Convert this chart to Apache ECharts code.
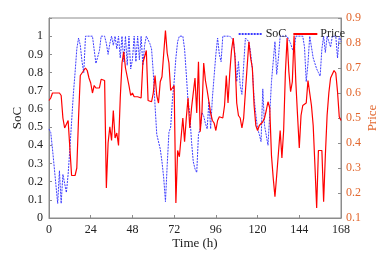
<!DOCTYPE html>
<html><head><meta charset="utf-8">
<script src="https://cdn.jsdelivr.net/npm/echarts@6/dist/echarts.min.js"></script>
<style>html,body{margin:0;padding:0;background:#fff}#c{width:382px;height:255px}</style>
</head><body><div id="c"></div>
<script>
const soc = [
0.49,0.47,0.38,0.28,0.18,0.08,0.26,0.08,0.24,0.19,0.14,0.24,
0.38,0.53,0.68,0.80,0.93,0.99,0.95,0.86,0.80,1.0,1.0,1.0,
1.0,1.0,1.0,0.85,0.84,0.92,1.0,1.0,1.0,0.96,0.90,0.96,
1.0,0.95,1.0,0.93,1.0,0.88,1.0,0.86,1.0,0.84,1.0,0.82,
0.87,1.0,0.86,1.0,0.87,1.0,0.84,0.95,1.0,1.0,0.96,0.93,
0.80,0.62,0.46,0.45,0.38,0.31,0.22,0.09,0.29,0.47,0.50,0.65,
0.75,0.88,0.97,1.0,1.0,1.0,0.93,0.79,0.64,0.57,0.42,0.31,
0.27,0.25,0.46,0.49,0.58,0.56,0.52,0.49,0.64,0.49,0.66,0.78,
0.90,0.99,0.90,0.86,1.0,1.0,1.0,1.0,1.0,1.0,0.98,0.90,
0.75,0.86,0.73,0.68,0.84,0.99,1.0,0.97,0.91,0.82,0.66,0.57,
0.49,0.46,0.42,0.71,0.51,0.50,0.40,0.57,0.75,0.76,0.97,0.79,
0.88,1.0,1.0,1.0,1.0,1.0,0.98,0.96,0.93,0.91,1.0,1.0,
1.0,1.0,1.0,0.94,0.75,0.85,1.0,1.0,0.88,0.85,0.82,0.80,
0.78,0.93,1.0,0.91,1.0,0.97,0.94,1.0,1.0,1.0,0.88,1.0,
0.97
];
const price = [
0.57,0.58,0.60,0.60,0.60,0.60,0.60,0.59,0.50,0.46,0.46,0.49,
0.38,0.27,0.265,0.27,0.30,0.50,0.67,0.67,0.69,0.70,0.69,0.66,
0.64,0.60,0.63,0.62,0.62,0.62,0.655,0.655,0.65,0.22,0.40,0.465,
0.41,0.53,0.42,0.44,0.39,0.58,0.72,0.765,0.70,0.70,0.63,0.59,
0.60,0.585,0.58,0.585,0.58,0.58,0.72,0.72,0.77,0.57,0.57,0.565,
0.60,0.67,0.59,0.56,0.645,0.665,0.66,0.85,0.76,0.72,0.61,0.605,
0.63,0.16,0.37,0.345,0.34,0.50,0.405,0.50,0.58,0.46,0.54,0.54,
0.66,0.52,0.725,0.445,0.525,0.72,0.65,0.61,0.61,0.52,0.49,0.48,
0.45,0.49,0.505,0.50,0.50,0.55,0.67,0.56,0.68,0.77,0.82,0.74,
0.56,0.51,0.50,0.46,0.50,0.605,0.61,0.805,0.74,0.70,0.55,0.47,
0.45,0.47,0.47,0.485,0.50,0.53,0.565,0.54,0.35,0.26,0.185,0.27,
0.36,0.45,0.34,0.45,0.68,0.82,0.685,0.605,0.645,0.83,0.645,0.51,
0.38,0.51,0.55,0.545,0.56,0.65,0.65,0.55,0.47,0.31,0.14,0.37,
0.365,0.37,0.165,0.35,0.51,0.60,0.66,0.665,0.69,0.68,0.605,0.505,
0.49
];
const hours = soc.map((_, i) => i);
const seriesNames = ['SoC', 'Price'];

const FONT = 'Liberation Serif';
const AX = '#8c8c8c';
const ORANGE = '#e2672e';

const chart = echarts.init(document.getElementById('c'), null, {renderer: 'canvas'});
chart.setOption({
  animation: false,
  backgroundColor: '#fff',
  textStyle: {fontFamily: FONT},
  grid: {left: 49, right: 41, top: 18, bottom: 37, show: true, borderColor: AX, borderWidth: 1,
         containLabel: false, outerBoundsMode: 'none'},
  legend: {
    right: 32, top: 23, itemWidth: 24, itemHeight: 8, itemGap: 6,
    itemStyle: {opacity: 0},
    textStyle: {fontFamily: FONT, fontSize: 12, color: '#222', padding: [0, 0, 0, -2]},
    data: seriesNames
  },
  xAxis: {
    type: 'value', min: 0, max: 168, interval: 24,
    name: 'Time (h)', nameLocation: 'middle', nameGap: 19, nameMoveOverlap: false,
    nameTextStyle: {fontFamily: FONT, fontSize: 13, color: '#222'},
    axisLine: {lineStyle: {color: AX}},
    axisTick: {inside: true, length: 3, lineStyle: {color: AX}},
    axisLabel: {fontFamily: FONT, fontSize: 12, color: '#222', margin: 6},
    splitLine: {show: false}
  },
  yAxis: [{
    type: 'value', min: 0, max: 1.1, interval: 0.1,
    name: 'SoC', nameLocation: 'middle', nameGap: 25, nameRotate: 90, nameMoveOverlap: false,
    nameTextStyle: {fontFamily: FONT, fontSize: 13, color: '#222'},
    axisLine: {show: true, lineStyle: {color: AX}},
    axisTick: {show: true, inside: true, length: 3, lineStyle: {color: AX}},
    axisLabel: {fontFamily: FONT, fontSize: 12, color: '#222', margin: 6,
      formatter: v => v > 1.05 ? '' : String(Math.round(v * 10) / 10)},
    splitLine: {show: false}
  }, {
    type: 'value', min: 0.1, max: 0.9, interval: 0.1, position: 'right',
    name: 'Price', nameLocation: 'middle', nameGap: 25, nameRotate: 90, nameMoveOverlap: false,
    nameTextStyle: {fontFamily: FONT, fontSize: 13, color: ORANGE},
    axisLine: {show: true, lineStyle: {color: AX}},
    axisTick: {show: true, inside: true, length: 3, lineStyle: {color: AX}},
    axisLabel: {fontFamily: FONT, fontSize: 12, color: ORANGE, margin: 5,
      formatter: v => String(Math.round(v * 10) / 10)},
    splitLine: {show: false}
  }],
  series: [{
    name: seriesNames[0], type: 'line', yAxisIndex: 0, symbol: 'none',
    data: hours.map(h => [h, soc[h]]),
    lineStyle: {color: '#3c3cff', width: 1, type: [2, 1]},
    itemStyle: {color: '#3c3cff'}
  }, {
    name: seriesNames[1], type: 'line', yAxisIndex: 1, symbol: 'none',
    data: hours.map(h => [h, price[h]]),
    lineStyle: {color: '#ff0000', width: 1.2},
    itemStyle: {color: '#ff0000'}
  }]
});
</script></body></html>
